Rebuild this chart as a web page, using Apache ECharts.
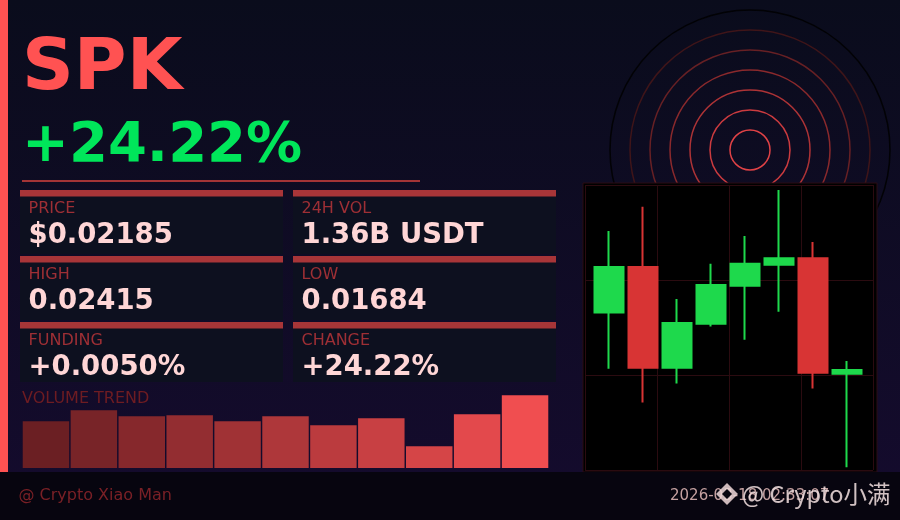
<!DOCTYPE html>
<html>
<head>
<meta charset="utf-8">
<script src="https://cdn.jsdelivr.net/npm/echarts@6/dist/echarts.min.js"></script>
<style>
html,body{margin:0;padding:0;background:#0a0c1c;}
#chart{width:900px;height:520px;}
</style>
</head>
<body>
<div id="chart"></div>
<script>
// ---------- data ----------
var symbol = 'SPK';
var changeText = '+24.22%';
var cardLabels = ['PRICE', '24H VOL', 'HIGH', 'LOW', 'FUNDING', 'CHANGE'];
var cardValues = ['$0.02185', '1.36B USDT', '0.02415', '0.01684', '+0.0050%', '+24.22%'];
var candleCategories = ['1', '2', '3', '4', '5', '6', '7', '8'];
var candleOpen  = [0.02097, 0.02241, 0.01923, 0.02062, 0.02182, 0.02248, 0.02269, 0.01904];
var candleClose = [0.02241, 0.01923, 0.02064, 0.02184, 0.02251, 0.02269, 0.01907, 0.01916];
var candleLow   = [0.01920, 0.01813, 0.01873, 0.02053, 0.02011, 0.02100, 0.01857, 0.01609];
var candleHigh  = [0.02355, 0.02431, 0.02140, 0.02251, 0.02339, 0.02484, 0.02320, 0.01944];
var volumeCategories = ['1','2','3','4','5','6','7','8','9','10','11'];
var volumeValues = [46.7, 57.7, 51.7, 52.7, 46.7, 51.7, 42.7, 49.7, 21.7, 53.7, 72.7];
var volumeTitle = 'VOLUME TREND';
var footerLeft = '@ Crypto Xiao Man';
var footerDate = '2026-03-18 02:33:07';
var watermarkText = '@ Crypto小满';

// ---------- build ----------
var candleData = candleOpen.map(function (o, i) {
  return [o, candleClose[i], candleLow[i], candleHigh[i]];
});

function lerpColor(a, b, t) {
  var r = Math.round(a[0] + (b[0] - a[0]) * t);
  var g = Math.round(a[1] + (b[1] - a[1]) * t);
  var bl = Math.round(a[2] + (b[2] - a[2]) * t);
  return 'rgb(' + r + ',' + g + ',' + bl + ')';
}
var volFrom = [107, 31, 35], volTo = [240, 78, 80];

var FONT = 'DejaVu Sans, sans-serif';
var graphics = [];

// decorative rings
var ringColors = ['#e04246', '#cc3b3f', '#ad3336', '#8a292c', '#672024', '#3f1519', '#020205'];
ringColors.forEach(function (c, i) {
  graphics.push({
    type: 'circle', z: -10, silent: true,
    shape: { cx: 750, cy: 150, r: 20 * (i + 1) },
    style: { fill: 'none', stroke: c, lineWidth: 1.5 }
  });
});

// left stripe
graphics.push({ type: 'rect', z: 5, shape: { x: 0, y: 0, width: 8, height: 472 }, style: { fill: '#ff5252' } });
// footer
graphics.push({ type: 'rect', z: 20, shape: { x: 0, y: 472, width: 900, height: 48 }, style: { fill: '#07050f' } });

// title
graphics.push({ type: 'text', z: 5, style: { text: symbol, x: 22, y: 70.6, fill: '#ff5252', font: 'bold 72px ' + FONT, verticalAlign: 'middle' } });
graphics.push({ type: 'text', z: 5, style: { text: changeText, x: 22, y: 146.4, fill: '#00e65a', font: 'bold 56px ' + FONT, verticalAlign: 'middle' } });
graphics.push({ type: 'rect', z: 5, shape: { x: 22, y: 180, width: 398, height: 2 }, style: { fill: '#a33436' } });

// cards
var cardX = [20, 293];
var cardY = [190, 256, 322];
var cardH = [64, 64, 60];
for (var r = 0; r < 3; r++) {
  for (var c = 0; c < 2; c++) {
    var idx = r * 2 + c;
    graphics.push({ type: 'rect', z: 2, shape: { x: cardX[c], y: cardY[r], width: 263, height: cardH[r] }, style: { fill: '#0d101f' } });
    graphics.push({ type: 'rect', z: 3, shape: { x: cardX[c], y: cardY[r], width: 263, height: 6.5 }, style: { fill: '#a83538' } });
    graphics.push({ type: 'text', z: 4, style: { text: cardLabels[idx], x: cardX[c] + 8.5, y: cardY[r] + 18.5, fill: '#9e2f35', font: '16px ' + FONT, verticalAlign: 'middle' } });
    graphics.push({ type: 'text', z: 4, style: { text: cardValues[idx], x: cardX[c] + 8.5, y: cardY[r] + 46, fill: '#ffd6d6', font: 'bold 27.5px ' + FONT, verticalAlign: 'middle' } });
  }
}

// volume title
graphics.push({ type: 'text', z: 4, style: { text: volumeTitle, x: 22, y: 398.5, fill: '#6e1c22', font: '16px ' + FONT, verticalAlign: 'middle' } });

// footer texts
graphics.push({ type: 'text', z: 21, style: { text: footerLeft, x: 18.5, y: 496, fill: '#7a2026', font: '16px ' + FONT, verticalAlign: 'middle' } });
graphics.push({ type: 'text', z: 21, style: { text: footerDate, x: 670, y: 496.2, fill: '#c4a0a0', font: '15px ' + FONT, verticalAlign: 'middle' } });
// watermark logo
graphics.push({ type: 'polygon', z: 22, shape: { points: [[727, 483], [738, 494], [727, 505], [716, 494]] }, style: { fill: 'rgba(238,216,216,0.85)' } });
graphics.push({ type: 'polygon', z: 23, shape: { points: [[727, 489], [732, 494], [727, 499], [722, 494]] }, style: { fill: '#07050f' } });
graphics.push({ type: 'text', z: 22, style: { text: watermarkText, x: 742, y: 494, fill: 'rgba(238,220,220,0.88)', font: '23.5px "Noto Sans CJK SC", ' + FONT, verticalAlign: 'middle' } });

var hiddenAxis = { show: false };
var splitLineAxisBase = {
  axisLine: { show: false }, axisTick: { show: false }, axisLabel: { show: false },
  splitLine: { show: true, lineStyle: { color: '#2b0b10', width: 1 } }
};

var option = {
  animation: false,
  backgroundColor: {
    type: 'linear', x: 0, y: 0, x2: 0, y2: 1,
    colorStops: [{ offset: 0, color: '#0a0c1c' }, { offset: 1, color: '#150b2e' }]
  },
  grid: [
    { left: 583, top: 183, width: 294, height: 289, show: true, backgroundColor: '#000000', borderColor: '#2a0d14', borderWidth: 1 },
    { left: 585, top: 185, width: 288, height: 285 },
    { left: 592, top: 185, width: 272, height: 285 },
    { left: 22, top: 388, width: 527, height: 80 }
  ],
  xAxis: [
    Object.assign({ gridIndex: 0, type: 'value', min: 0, max: 1 }, hiddenAxis),
    Object.assign({ gridIndex: 1, type: 'value', min: 0, max: 4, interval: 1 }, splitLineAxisBase),
    { gridIndex: 2, type: 'category', data: candleCategories, show: false, boundaryGap: true },
    { gridIndex: 3, type: 'category', data: volumeCategories, show: false }
  ],
  yAxis: [
    Object.assign({ gridIndex: 0, type: 'value', min: 0, max: 1 }, hiddenAxis),
    Object.assign({ gridIndex: 1, type: 'value', min: 0, max: 3, interval: 1 }, splitLineAxisBase),
    { gridIndex: 2, type: 'value', min: 0.016, max: 0.025, show: false, scale: true },
    { gridIndex: 3, type: 'value', min: 0, max: 80, show: false }
  ],
  graphic: { elements: graphics },
  series: [
    {
      type: 'candlestick', xAxisIndex: 2, yAxisIndex: 2,
      data: candleData, barWidth: 30,
      itemStyle: { color: '#1ed94c', color0: '#d83434', borderColor: '#1ed94c', borderColor0: '#d83434', borderWidth: 2 }
    },
    {
      type: 'bar', xAxisIndex: 3, yAxisIndex: 3,
      data: volumeValues, barCategoryGap: '3%',
      itemStyle: {
        color: function (p) { return lerpColor(volFrom, volTo, p.dataIndex / (volumeValues.length - 1)); }
      }
    }
  ]
};

var chart = echarts.init(document.getElementById('chart'), null, { renderer: 'canvas' });
chart.setOption(option);
</script>
</body>
</html>
